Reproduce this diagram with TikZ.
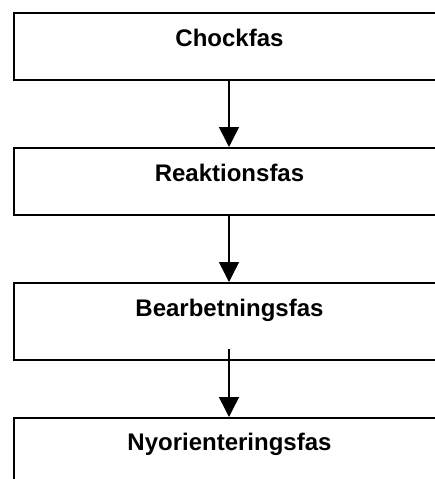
\documentclass[tikz,border=0pt]{standalone}
\usepackage{fontspec}
\setmainfont{Liberation Sans}
\usetikzlibrary{arrows.meta}
\begin{document}
\begin{tikzpicture}[x=1pt,y=-1pt,
  phasebox/.style={draw=black,line width=1.6pt,rectangle,anchor=north west,inner sep=0pt,minimum width=432pt},
  phaselabel/.style={anchor=base,inner sep=0pt,font=\fontsize{24}{28}\selectfont\bfseries},
  flowarrow/.style={line width=1.5pt,-{Triangle[width=20pt,length=20pt]}}]
\useasboundingbox (0,0) rectangle (435,479);
\clip (0,0) rectangle (435,479);
\fill[white] (0,0) rectangle (435,479);
\node[phasebox,minimum height=67pt] (b1) at (13,12) {};
\node[phasebox,minimum height=67pt] (b2) at (13,147) {};
\node[phasebox,minimum height=77pt] (b3) at (13,282) {};
\node[phasebox,minimum height=120pt] (b4) at (13,417) {};
\node[phaselabel] (t1) at (229.5,46.5) {Chockfas};
\node[phaselabel] (t2) at (229.5,181.5) {Reaktionsfas};
\node[phaselabel] (t3) at (229.5,316) {Bearbetningsfas};
\node[phaselabel] (t4) at (229.5,450) {Nyorienteringsfas};
\coordinate (s3) at (229,349);
\draw[flowarrow] (b1.south -| s3) -- (b2.north -| s3);
\draw[flowarrow] (b2.south -| s3) -- (b3.north -| s3);
\draw[flowarrow] (s3) -- (b4.north -| s3);
\end{tikzpicture}
\end{document}
